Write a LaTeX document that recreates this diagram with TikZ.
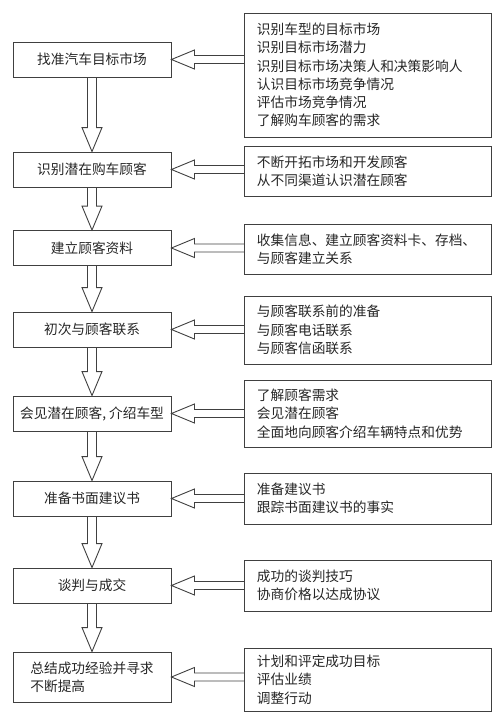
\documentclass[tikz,border=0pt]{standalone}
\usepackage{fontspec}
\setmainfont{Noto Sans CJK SC}
\usetikzlibrary{calc}
\tikzset{
  stepbox/.style={draw=black!75, line width=0.9pt, text=black!85,
    font=\fontsize{13.7pt}{18.3pt}\selectfont, minimum width=158pt,
    minimum height=35pt, inner sep=0pt, align=left},
  notebox/.style={draw=black!75, line width=0.9pt, text=black!85,
    font=\fontsize{13.7pt}{18.3pt}\selectfont, anchor=west,
    text width=222pt, inner sep=0pt, inner xsep=12.5pt, align=left},
  hollow/.style={draw=black!75, line width=0.9pt}
}
\begin{document}
\begin{tikzpicture}[x=1pt,y=-1pt]
  \useasboundingbox (0,0) rectangle (503,723);
  % steps on the left
  \node[stepbox] (l1) at (92,59.5) {找准汽车目标市场};
  \node[stepbox] (l2) at (92,169.5) {识别潜在购车顾客};
  \node[stepbox] (l3) at (92,248) {建立顾客资料};
  \node[stepbox] (l4) at (92,329.5) {初次与顾客联系};
  \node[stepbox] (l5) at (92,413.5) {会见潜在顾客, 介绍车型};
  \node[stepbox] (l6) at (92,498.5) {准备书面建议书};
  \node[stepbox] (l7) at (92,585.5) {谈判与成交};
  \node[stepbox, minimum height=50pt] (l8) at (92,677) {总结成功经验并寻求\\不断提高};
  % notes on the right
  \node[notebox, minimum height=124pt] (r1) at (244,75)
    {识别车型的目标市场\\识别目标市场潜力\\识别目标市场决策人和决策影响人\\认识目标市场竞争情况\\评估市场竞争情况\\了解购车顾客的需求};
  \node[notebox, minimum height=50pt] (r2) at (244,171)
    {不断开拓市场和开发顾客\\从不同渠道认识潜在顾客};
  \node[notebox, minimum height=50pt] (r3) at (244,249)
    {收集信息、建立顾客资料卡、存档、\\与顾客建立关系};
  \node[notebox, minimum height=68pt] (r4) at (244,330)
    {与顾客联系前的准备\\与顾客电话联系\\与顾客信函联系};
  \node[notebox, minimum height=67pt] (r5) at (244,413.5)
    {了解顾客需求\\会见潜在顾客\\全面地向顾客介绍车辆特点和优势};
  \node[notebox, minimum height=51pt] (r6) at (244,498.5)
    {准备建议书\\跟踪书面建议书的事实};
  \node[notebox, minimum height=51pt] (r7) at (244,585.5)
    {成功的谈判技巧\\协商价格以达成协议};
  \node[notebox, minimum height=63pt] (r8) at (244,679.5)
    {计划和评定成功目标\\评估业绩\\调整行动};
  % hollow arrows down the steps
  \foreach \a/\b in {l1/l2,l2/l3,l3/l4,l4/l5,l5/l6,l6/l7,l7/l8}
    \draw[hollow] let \p1=(\a.south), \p2=(\b.north) in
      (\x1-4.5pt,\y1) -- (\x1-4.5pt,\y2+24pt) -- (\x1-10pt,\y2+24pt) -- (\x2,\y2)
      -- (\x1+10pt,\y2+24pt) -- (\x1+4.5pt,\y2+24pt) -- (\x1+4.5pt,\y1);
  % hollow arrows from notes to steps
  \foreach \i in {1,...,8}
    \draw[hollow] let \p1=(l\i.east), \p2=(r\i.west) in
      (\x2,\y1+4pt) -- (\x1+23pt,\y1+4pt) -- (\x1+23pt,\y1+9.5pt) -- (\x1,\y1)
      -- (\x1+23pt,\y1-9.5pt) -- (\x1+23pt,\y1-4pt) -- (\x2,\y1-4pt);
\end{tikzpicture}
\end{document}
